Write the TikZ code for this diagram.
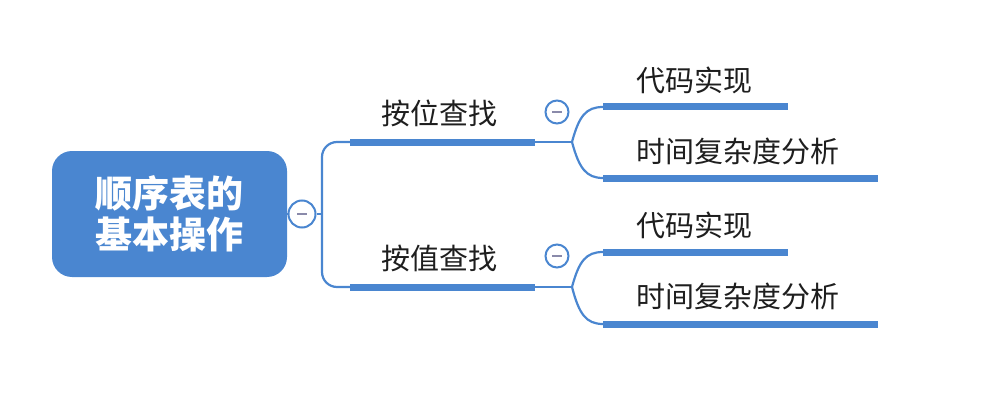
\documentclass[tikz,border=0pt]{standalone}
\usepackage{fontspec}
\newfontfamily\cjk{Noto Sans CJK SC}
\definecolor{mmblue}{HTML}{4A86D0}
\definecolor{minusc}{HTML}{8A8AAA}
\definecolor{txt}{HTML}{1E1E1E}
\begin{document}
\begin{tikzpicture}[x=1pt,y=-1pt,
  thinline/.style={draw=mmblue, line width=2.2pt},
  thickline/.style={draw=mmblue, line width=7pt},
  collapse/.style={circle, draw=mmblue, line width=2pt, fill=white, minimum size=23pt, inner sep=0pt},
  minusline/.style={draw=minusc, line width=2.2pt},
  lbl/.style={font=\cjk\fontsize{29}{34}\selectfont, text=txt, inner sep=0pt, anchor=west}]
\useasboundingbox (0,0) rectangle (997,404);

% root
\node[rounded corners=20pt, fill=mmblue, minimum width=235pt, minimum height=126pt,
      text=white, font=\cjk\bfseries\fontsize{37}{41}\selectfont, align=center, inner sep=0pt]
      (root) at (169.5,214) {顺序表的\\基本操作};
\node[collapse, minimum size=27pt] (c0) at (302,214) {};
\draw[minusline] ([xshift=-5pt]c0.center) -- ([xshift=5pt]c0.center);
\coordinate (j0) at (322,214);
\draw[thinline] (root.east) -- (c0.west);
\draw[thinline] (c0.east) -- (j0);

% branch 1
\coordinate (b1s) at (350,142);
\coordinate (b1e) at (535,142);
\coordinate (f1) at (572,142);
\draw[thinline, rounded corners=15pt] (b1s) -- (322,142) -- (322,287) -- (350,287);
\draw[thickline] (b1s) -- (b1e);
\draw[thinline] (b1e) -- (f1);
\node[lbl] (t1) at (381,113) {按位查找};
\node[collapse] (c1) at (557,112) {};
\draw[minusline] ([xshift=-5pt]c1.center) -- ([xshift=5pt]c1.center);

\coordinate (s11s) at (603,107);
\coordinate (s11e) at (788,107);
\coordinate (s12s) at (603,178);
\coordinate (s12e) at (878,178);
\draw[thinline] (f1) .. controls (579,116) and (586,107) .. (s11s);
\draw[thinline] (f1) .. controls (579,168) and (586,178) .. (s12s);
\draw[thickline] (s11s) -- (s11e);
\draw[thickline] (s12s) -- (s12e);
\node[lbl] (t11) at (636,80) {代码实现};
\node[lbl] (t12) at (636,151) {时间复杂度分析};

% branch 2
\coordinate (b2s) at (350,287);
\coordinate (b2e) at (535,287);
\coordinate (f2) at (572,287);
\draw[thickline] (b2s) -- (b2e);
\draw[thinline] (b2e) -- (f2);
\node[lbl] (t2) at (381,258) {按值查找};
\node[collapse] (c2) at (557,256) {};
\draw[minusline] ([xshift=-5pt]c2.center) -- ([xshift=5pt]c2.center);

\coordinate (s21s) at (603,252);
\coordinate (s21e) at (788,252);
\coordinate (s22s) at (603,324);
\coordinate (s22e) at (878,324);
\draw[thinline] (f2) .. controls (579,261) and (586,252) .. (s21s);
\draw[thinline] (f2) .. controls (579,314) and (586,324) .. (s22s);
\draw[thickline] (s21s) -- (s21e);
\draw[thickline] (s22s) -- (s22e);
\node[lbl] (t21) at (636,225) {代码实现};
\node[lbl] (t22) at (636,296) {时间复杂度分析};
\end{tikzpicture}
\end{document}
